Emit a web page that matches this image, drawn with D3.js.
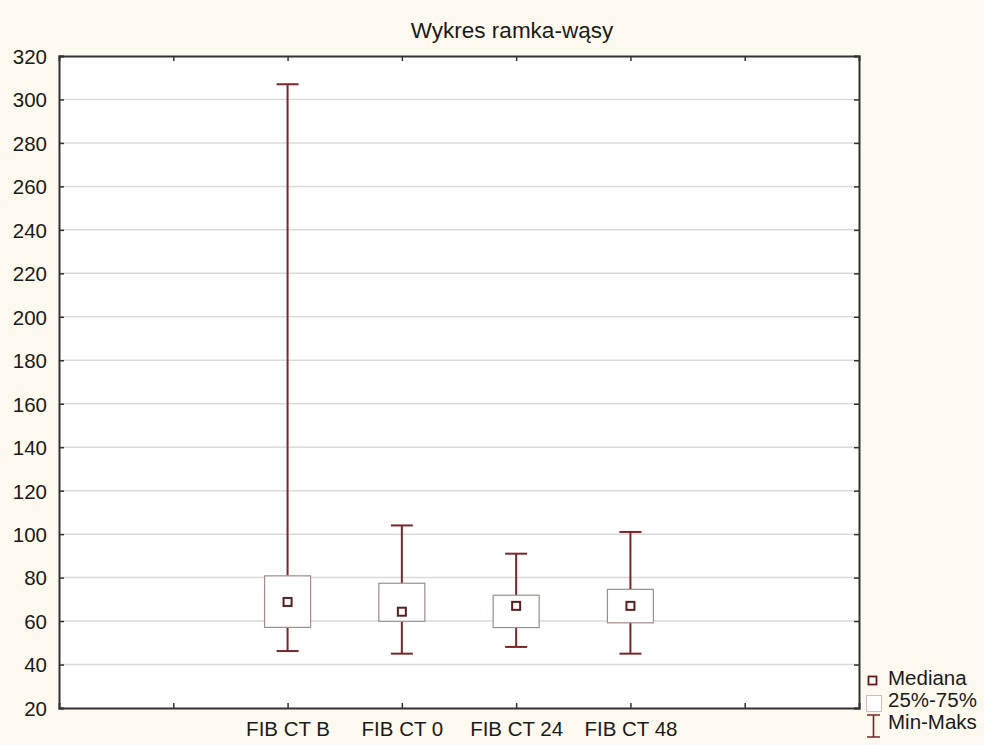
<!DOCTYPE html>
<html>
<head>
<meta charset="utf-8">
<script src="https://cdn.jsdelivr.net/npm/d3@7"></script>
<style>
  body { margin: 0; background: #fdf9ef; }
  text { font-family: "Liberation Sans", Arial, sans-serif; fill: #1a1a1a; }
</style>
</head>
<body>
<svg id="chart"></svg>
<script>
const categories = ["FIB CT B", "FIB CT 0", "FIB CT 24", "FIB CT 48"];
const medians = [68.8, 64.3, 67, 67];
const q1 = [57.1, 59.9, 57, 59.2];
const q3 = [80.8, 77.4, 71.9, 74.6];
const mins = [46.2, 45, 48.1, 45];
const maxs = [307, 104, 91, 101];
const yTicks = d3.range(20, 321, 20);
const legendLabels = ["Mediana", "25%-75%", "Min-Maks"];

const width = 984;
const height = 745;
const margin = { top: 56, right: 125, bottom: 37, left: 59 };

const whiskerColor = "#7a2626";
const boxColor = "#a08a8a";

const svg = d3.select("#chart")
  .attr("width", width)
  .attr("height", height);

svg.append("rect")
  .attr("width", width)
  .attr("height", height)
  .attr("fill", "#fdf9ef");

// category slots 0..7, boxes sit on 2..5, ticks on 1..6
const x = d3.scaleLinear()
  .domain([0, 7])
  .range([margin.left, width - margin.right]);

const y = d3.scaleLinear()
  .domain([20, 320])
  .range([height - margin.bottom, margin.top]);

const data = categories.map((c, i) => ({
  name: c, pos: i + 2,
  med: medians[i], lo: q1[i], hi: q3[i], min: mins[i], max: maxs[i]
}));

svg.append("rect")
  .attr("x", x(0))
  .attr("y", y(320))
  .attr("width", x(7) - x(0))
  .attr("height", y(20) - y(320))
  .attr("fill", "#fff");

// gridlines
svg.append("g")
  .selectAll("line")
  .data(yTicks.filter(d => d > 20 && d < 320))
  .join("line")
  .attr("x1", x(0))
  .attr("x2", x(7))
  .attr("y1", d => y(d))
  .attr("y2", d => y(d))
  .attr("stroke", "#dadada")
  .attr("stroke-width", 1.5);

// axes (ticks point inward)
const tickPositions = [1, 2, 3, 4, 5, 6];
const catLabel = d => (d >= 2 && d <= 5) ? categories[d - 2] : "";

const axisB = svg.append("g")
  .attr("transform", `translate(0,${y(20)})`)
  .call(d3.axisBottom(x).tickValues(tickPositions).tickFormat(catLabel).tickSize(-5).tickPadding(13));
const axisT = svg.append("g")
  .attr("transform", `translate(0,${y(320)})`)
  .call(d3.axisTop(x).tickValues(tickPositions).tickFormat("").tickSize(-5));
const axisL = svg.append("g")
  .attr("transform", `translate(${x(0)},0)`)
  .call(d3.axisLeft(y).tickValues(yTicks).tickSize(-5).tickPadding(12));
const axisR = svg.append("g")
  .attr("transform", `translate(${x(7)},0)`)
  .call(d3.axisRight(y).tickValues(yTicks).tickFormat("").tickSize(-5));

[axisB, axisT, axisL, axisR].forEach(g => {
  g.select(".domain").attr("stroke", "#333").attr("stroke-width", 2);
  g.selectAll(".tick line").attr("stroke", "#333").attr("stroke-width", 1.5);
  g.selectAll(".tick text")
    .attr("font-family", "Liberation Sans, Arial, sans-serif")
    .attr("fill", "#1a1a1a");
});
axisL.selectAll(".tick text").attr("font-size", 20.5).attr("dy", "0.36em");
axisB.selectAll(".tick text").attr("font-size", 20.5);

// whiskers
const boxes = svg.append("g").selectAll("g")
  .data(data)
  .join("g");

boxes.append("line")
  .attr("x1", d => x(d.pos)).attr("x2", d => x(d.pos))
  .attr("y1", d => y(d.max)).attr("y2", d => y(d.hi))
  .attr("stroke", whiskerColor).attr("stroke-width", 2);
boxes.append("line")
  .attr("x1", d => x(d.pos)).attr("x2", d => x(d.pos))
  .attr("y1", d => y(d.lo)).attr("y2", d => y(d.min))
  .attr("stroke", whiskerColor).attr("stroke-width", 2);
boxes.append("line")
  .attr("x1", d => x(d.pos) - 11).attr("x2", d => x(d.pos) + 11)
  .attr("y1", d => y(d.max)).attr("y2", d => y(d.max))
  .attr("stroke", whiskerColor).attr("stroke-width", 2);
boxes.append("line")
  .attr("x1", d => x(d.pos) - 11).attr("x2", d => x(d.pos) + 11)
  .attr("y1", d => y(d.min)).attr("y2", d => y(d.min))
  .attr("stroke", whiskerColor).attr("stroke-width", 2);

boxes.append("rect")
  .attr("x", d => x(d.pos) - 23)
  .attr("width", 46)
  .attr("y", d => y(d.hi))
  .attr("height", d => y(d.lo) - y(d.hi))
  .attr("fill", "#fff")
  .attr("stroke", boxColor)
  .attr("stroke-width", 1.2);

boxes.append("rect")
  .attr("x", d => x(d.pos) - 4)
  .attr("y", d => y(d.med) - 4)
  .attr("width", 8)
  .attr("height", 8)
  .attr("fill", "#fff")
  .attr("stroke", "#5e1c1c")
  .attr("stroke-width", 2);

// title
svg.append("text")
  .attr("x", 512)
  .attr("y", 38)
  .attr("text-anchor", "middle")
  .attr("font-size", 22.5)
  .text("Wykres ramka-wąsy");

// legend
const lg = svg.append("g").attr("transform", "translate(866,672)");
lg.append("rect")
  .attr("x", 2.5).attr("y", 4.5).attr("width", 8).attr("height", 8)
  .attr("fill", "#fff").attr("stroke", "#5e1c1c").attr("stroke-width", 1.8);
lg.append("rect")
  .attr("x", 0.5).attr("y", 23.5).attr("width", 15).attr("height", 16)
  .attr("fill", "#fff").attr("stroke", "#c8c0c0").attr("stroke-width", 1);
lg.append("path")
  .attr("d", "M1,43H14M7.5,43V65M1,65H14")
  .attr("fill", "none").attr("stroke", whiskerColor).attr("stroke-width", 1.6);
lg.selectAll("text.lab")
  .data(legendLabels)
  .join("text")
  .attr("class", "lab")
  .attr("x", 22)
  .attr("y", (d, i) => 13 + i * 22)
  .attr("font-size", 20.5)
  .text(d => d);
</script>
</body>
</html>
